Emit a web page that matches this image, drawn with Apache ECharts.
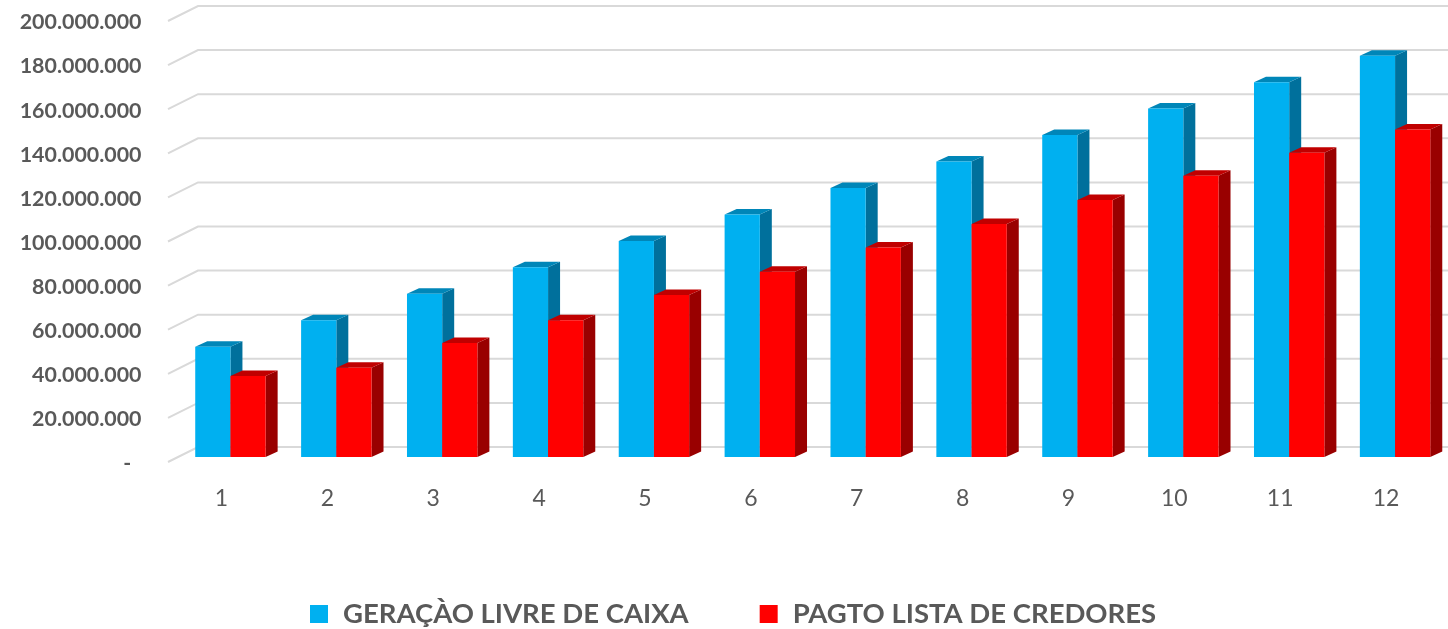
<!DOCTYPE html>
<html>
<head>
<meta charset="utf-8">
<script src="https://cdn.jsdelivr.net/npm/echarts@6/dist/echarts.min.js"></script>
<style>
  html, body { margin: 0; padding: 0; background: #fff; }
  #chart { width: 1448px; height: 629px; }
</style>
</head>
<body>
<div id="chart"></div>
<script>
var categories = ["1", "2", "3", "4", "5", "6", "7", "8", "9", "10", "11", "12"];
var geracaoLivre = [50000000, 62000000, 74000000, 86000000, 98000000, 110000000, 122000000, 134000000, 146000000, 158000000, 170000000, 182000000];
var pagtoLista = [36700000, 40500000, 51700000, 62000000, 73500000, 84000000, 95000000, 105700000, 116500000, 127500000, 138000000, 148500000];
var yTicks = [0, 20000000, 40000000, 60000000, 80000000, 100000000, 120000000, 140000000, 160000000, 180000000, 200000000];
var yTickLabels = ["-  ", "20.000.000", "40.000.000", "60.000.000", "80.000.000", "100.000.000", "120.000.000", "140.000.000", "160.000.000", "180.000.000", "200.000.000"];

var FONT = "Lato";
var TEXT_COLOR = "#595959";

// fake 3d bar: front face + top + side, side = -1 left of the category centre, 0 right of it
function barItem(front, top, right, side) {
  return function (params, api) {
    var idx = api.value(0);
    var p = api.coord([idx, api.value(1)]);
    var base = api.coord([idx, 0]);
    var w = api.size([1, 0])[0] * 0.3325;
    var x = p[0] + side * w;
    var dx = 12, dy = -5.5;
    return {
      type: "group",
      children: [
        {
          type: "polygon",
          shape: { points: [[x + w, p[1]], [x + w + dx, p[1] + dy], [x + w + dx, base[1] + dy], [x + w, base[1]]] },
          style: { fill: right }
        },
        {
          type: "polygon",
          shape: { points: [[x, p[1]], [x + dx, p[1] + dy], [x + w + dx, p[1] + dy], [x + w, p[1]]] },
          style: { fill: top }
        },
        {
          type: "rect",
          shape: { x: x, y: p[1], width: w, height: base[1] - p[1] },
          style: { fill: front }
        }
      ]
    };
  };
}

function wallLine(params, api) {
  var y = api.coord([0, api.value(0)])[1];
  var cs = params.coordSys;
  return {
    type: "polyline",
    shape: { points: [[cs.x - 9.5, y + 5], [cs.x + 20.5, y - 10], [cs.x + cs.width, y - 10]] },
    style: { fill: "none", stroke: "#d9d9d9", lineWidth: 2 }
  };
}

var myChart = echarts.init(document.getElementById("chart"), null, { renderer: "canvas" });
var option = {
  animation: false,
  backgroundColor: "#fff",
  textStyle: { fontFamily: FONT },
  // second grid only carries the y labels, they sit on the front edge of the floor
  grid: [
    { left: 177.5, top: 16, width: 1271, height: 441 },
    { left: 177.5, top: 22.5, width: 1271, height: 441 }
  ],
  legend: {
    left: 305,
    top: 595,
    itemWidth: 18,
    itemHeight: 18,
    itemGap: 71,
    icon: "rect",
    data: ["GERAÇÀO LIVRE DE CAIXA", "PAGTO LISTA DE CREDORES"],
    textStyle: { color: TEXT_COLOR, fontFamily: FONT, fontWeight: "bold", fontSize: 27.5, padding: [0, 0, 0, 10] }
  },
  xAxis: [
    {
      type: "category",
      data: categories,
      axisLine: { show: false },
      axisTick: { show: false },
      axisLabel: { color: TEXT_COLOR, fontFamily: FONT, fontSize: 23, margin: 30, padding: [0, 18, 0, 0] }
    },
    {
      gridIndex: 1,
      type: "category",
      data: categories,
      show: false
    }
  ],
  yAxis: [
    {
      type: "value",
      min: 0,
      max: 200000000,
      interval: 20000000,
      axisLine: { show: false },
      axisTick: { show: false },
      splitLine: { show: false },
      axisLabel: { show: false }
    },
    {
      gridIndex: 1,
      type: "value",
      min: 0,
      max: 200000000,
      interval: 20000000,
      axisLine: { show: false },
      axisTick: { show: false },
      splitLine: { show: false },
      axisLabel: {
        color: TEXT_COLOR,
        fontFamily: FONT,
        fontWeight: "bold",
        fontSize: 21.4,
        margin: 36,
        formatter: function (value, index) { return yTickLabels[index]; }
      }
    }
  ],
  series: [
    {
      type: "custom",
      silent: true,
      z: 1,
      clip: false,
      coordinateSystem: "cartesian2d",
      encode: { y: 0 },
      data: yTicks.map(function (v) { return [v]; }),
      renderItem: wallLine
    },
    {
      name: "GERAÇÀO LIVRE DE CAIXA",
      type: "custom",
      z: 2,
      clip: false,
      itemStyle: { color: "#00b0f0" },
      encode: { x: 0, y: 1 },
      data: geracaoLivre.map(function (v, i) { return [i, v]; }),
      renderItem: barItem("#00b0f0", "#0086b8", "#00709c", -1)
    },
    {
      name: "PAGTO LISTA DE CREDORES",
      type: "custom",
      z: 3,
      clip: false,
      itemStyle: { color: "#ff0000" },
      encode: { x: 0, y: 1 },
      data: pagtoLista.map(function (v, i) { return [i, v]; }),
      renderItem: barItem("#ff0000", "#c00000", "#990000", 0)
    }
  ]
};
myChart.setOption(option);
</script>
</body>
</html>
